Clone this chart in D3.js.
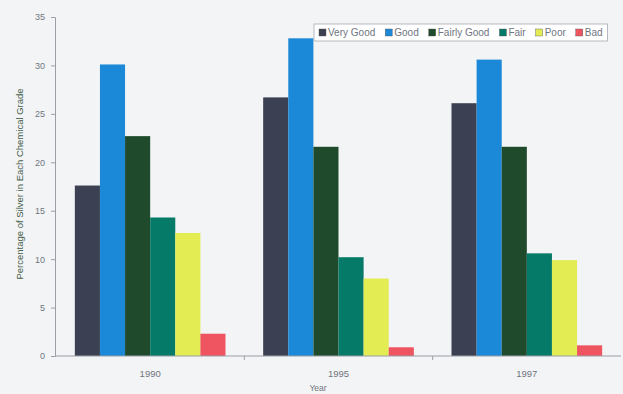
<!DOCTYPE html>
<html>
<head>
<meta charset="utf-8">
<script src="https://cdn.jsdelivr.net/npm/d3@7"></script>
<style>
  html, body { margin: 0; padding: 0; background: #f3f4f6; }
  svg { display: block; font-family: "Liberation Sans", Arial, sans-serif; }
</style>
</head>
<body>
<svg id="chart" width="623" height="394"></svg>
<script>
// Silver grade shares by year
const years = ["1990", "1995", "1997"];
const grades = ["Very Good", "Good", "Fairly Good", "Fair", "Poor", "Bad"];
const veryGood   = [17.6, 26.7, 26.1];
const good       = [30.1, 32.8, 30.6];
const fairlyGood = [22.7, 21.6, 21.6];
const fair       = [14.3, 10.2, 10.6];
const poor       = [12.7,  8.0,  9.9];
const bad        = [ 2.3,  0.9,  1.1];
const yTicks = [0, 5, 10, 15, 20, 25, 30, 35];
const gradeColors = ["#3b4152", "#1b88d8", "#1f4b2c", "#067a68", "#e3ec52", "#ef5560"];

const seriesValues = [veryGood, good, fairlyGood, fair, poor, bad];

const svg = d3.select("#chart");

const x = d3.scaleBand().domain(years).range([56, 621])
  .paddingInner(0.2).paddingOuter(0.1);
const xInner = d3.scaleBand().domain(grades).range([0, x.bandwidth()]);
const y = d3.scaleLinear().domain([0, 35]).range([356, 17]);

// bars
years.forEach((yr, i) => {
  const g = svg.append("g").attr("transform", `translate(${x(yr)},0)`);
  g.selectAll("rect")
    .data(grades.map((gr, k) => ({ grade: gr, value: seriesValues[k][i], color: gradeColors[k] })))
    .join("rect")
    .attr("x", d => xInner(d.grade))
    .attr("y", d => y(d.value))
    .attr("width", xInner.bandwidth())
    .attr("height", d => y(0) - y(d.value))
    .attr("fill", d => d.color);
});

// y axis
const yAxis = d3.axisLeft(y).tickValues(yTicks).tickSize(4).tickPadding(6);
const gy = svg.append("g").attr("transform", "translate(55,0)").call(yAxis);
gy.select(".domain").attr("stroke", "#9a9ea6");
gy.selectAll(".tick line").attr("stroke", "#9a9ea6");
gy.selectAll(".tick text").attr("fill", "#6f7580").attr("font-size", 9);

// x axis: line, boundary ticks, centered labels
const xAxisY = y(0);
svg.append("line").attr("x1", 55).attr("x2", 621).attr("y1", xAxisY).attr("y2", xAxisY)
  .attr("stroke", "#9a9ea6");
const step = x.step();
years.slice(1).forEach(yr => {
  const bx = x(yr) - step * x.paddingInner() / 2;
  svg.append("line").attr("x1", bx).attr("x2", bx).attr("y1", xAxisY).attr("y2", xAxisY + 4)
    .attr("stroke", "#9a9ea6");
});
svg.selectAll(".xlabel").data(years).join("text")
  .attr("class", "xlabel")
  .attr("x", d => x(d) + x.bandwidth() / 2)
  .attr("y", 377)
  .attr("text-anchor", "middle")
  .attr("font-size", 9.5)
  .attr("fill", "#6f7580")
  .text(d => d);

// axis titles
svg.append("text").attr("x", 318).attr("y", 391).attr("text-anchor", "middle")
  .attr("font-size", 8.5).attr("fill", "#6f7580").text("Year");
svg.append("text").attr("transform", "translate(23,184) rotate(-90)")
  .attr("text-anchor", "middle").attr("font-size", 9.5).attr("fill", "#45604a")
  .text("Percentage of Silver in Each Chemical Grade");

// legend
const legend = svg.append("g");
const lx0 = 314, ly0 = 24, lh = 17;
const box = legend.append("rect").attr("x", lx0).attr("y", ly0).attr("height", lh)
  .attr("fill", "#ffffff").attr("stroke", "#a6aab2").attr("stroke-width", 0.8);
let cx = lx0 + 5;
grades.forEach((gr, k) => {
  legend.append("rect").attr("x", cx).attr("y", ly0 + 5).attr("width", 7).attr("height", 7)
    .attr("fill", gradeColors[k]).attr("stroke", "#555").attr("stroke-width", 0.4);
  const t = legend.append("text").attr("x", cx + 9).attr("y", ly0 + 12)
    .attr("font-size", 10).attr("fill", "#6f7580").text(gr);
  cx += 9 + t.node().getComputedTextLength() + 10;
});
box.attr("width", cx - lx0 - 5);
</script>
</body>
</html>
